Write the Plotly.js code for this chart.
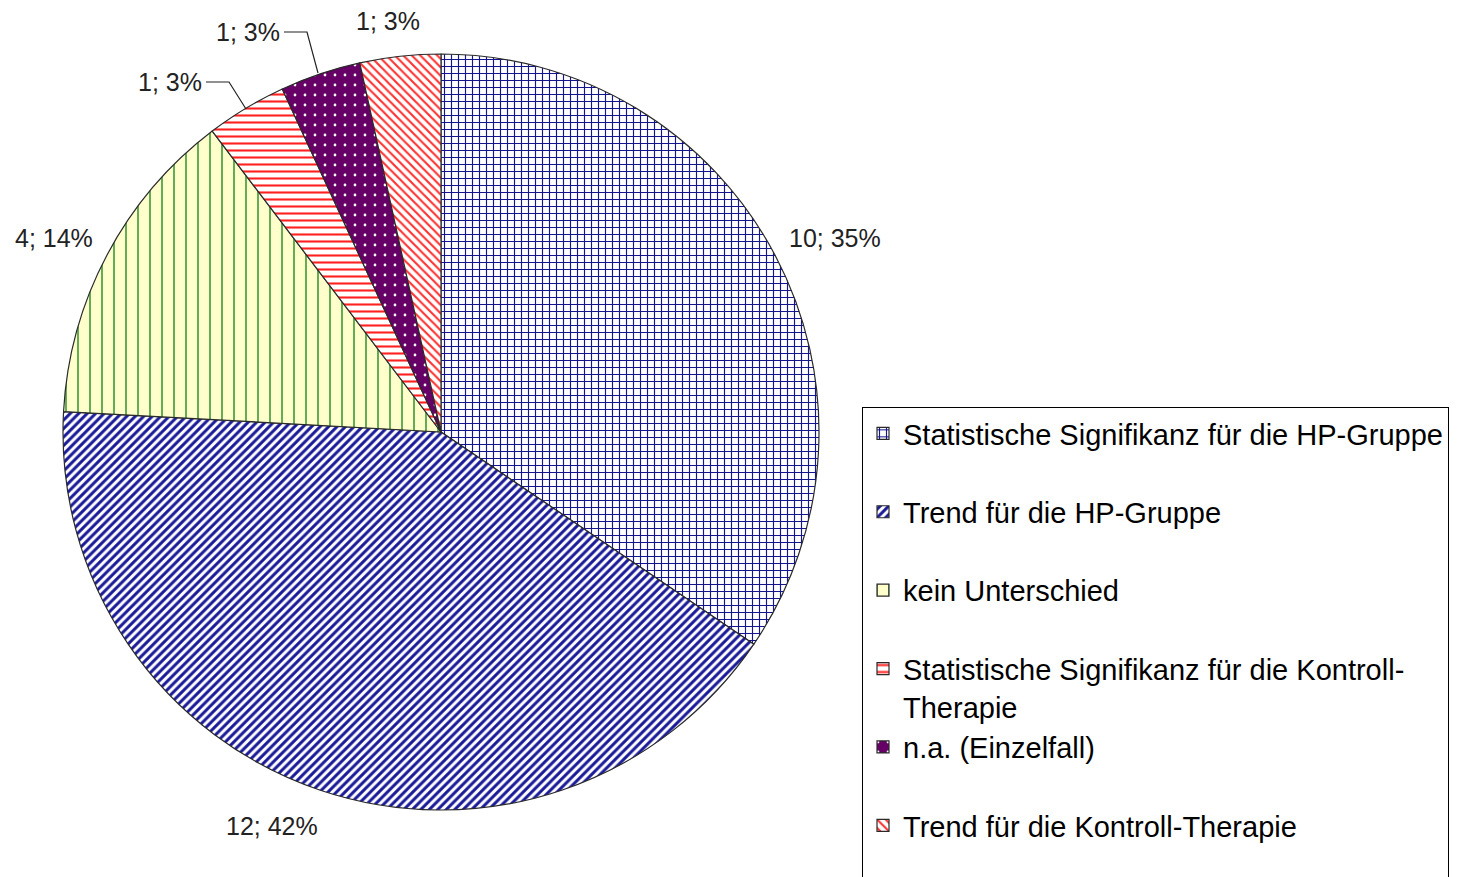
<!DOCTYPE html>
<html>
<head>
<meta charset="utf-8">
<script src="https://cdn.plot.ly/plotly-3.0.1.min.js"></script>
<style>html,body{margin:0;padding:0;background:#fff;}#chart{width:1468px;height:877px;}</style>
</head>
<body>
<div id="chart"></div>
<script>
// ---- data ----
const categories = [
  "Statistische Signifikanz für die HP-Gruppe",
  "Trend für die HP-Gruppe",
  "kein Unterschied",
  "Statistische Signifikanz für die Kontroll-<br>Therapie",
  "n.a. (Einzelfall)",
  "Trend für die Kontroll-Therapie"
];
const counts = [10, 12, 4, 1, 1, 1];
const percents = [35, 42, 14, 3, 3, 3];

// ---- styling ----
const W = 1468, H = 877;
const px = x => x / W, py = y => 1 - y / H;
const bgColors = ["#ffffff", "#ffffff", "#ffffcc", "#ffffff", "#660066", "#ffffff"];
const fgColors = ["#14148f", "#1a1a99", "#2a8a2a", "#ff2020", "#ffffff", "#ff3030"];
const shapes = ["+", "/", "|", "-", ".", "\\"];
const sizes = [7, 6, 12, 7, 10, 6];
const solid = [0.3, 0.5, 0.12, 0.3, 0.06, 0.35];

const legendLabels = categories.map(c => c.includes("<br>") ? c : c + "<br> ");
const sliceText = counts.map((c, i) => c + "; " + percents[i] + "%");

const trace = {
  type: "pie",
  labels: legendLabels,
  values: counts,
  sort: false,
  direction: "clockwise",
  rotation: 0,
  textinfo: "none",
  hoverinfo: "label+value+percent",
  domain: {x: [px(63), px(819)], y: [py(810), py(54)]},
  marker: {
    colors: bgColors,
    line: {color: "#2a2a2a", width: 1.2},
    pattern: {shape: shapes, fgcolor: fgColors, bgcolor: bgColors, size: sizes, solidity: solid, fillmode: "replace"}
  }
};

// label positions (pixel centers) for the data labels
const labelPos = [[835, 238], [272, 826], [54, 238], [170, 82], [248, 32], [388, 21]];
const annotations = sliceText.map((t, i) => ({
  text: t, xref: "paper", yref: "paper",
  x: px(labelPos[i][0]), y: py(labelPos[i][1]),
  xanchor: "center", yanchor: "middle", showarrow: false,
  font: {family: "Liberation Sans, Arial, sans-serif", size: 25, color: "#222"}
}));

const leaderShapes = [
  {type: "path", xref: "paper", yref: "paper",
   path: `M ${px(206)} ${py(82)} L ${px(229)} ${py(82)} L ${px(246)} ${py(109)}`,
   line: {color: "#222", width: 1.2}},
  {type: "path", xref: "paper", yref: "paper",
   path: `M ${px(284)} ${py(32)} L ${px(307)} ${py(32)} L ${px(318)} ${py(73)}`,
   line: {color: "#222", width: 1.2}}
];

const layout = {
  width: W, height: H,
  margin: {l: 0, r: 0, t: 0, b: 0, autoexpand: false},
  paper_bgcolor: "#ffffff",
  showlegend: true,
  legend: {
    x: px(862), y: py(407), xanchor: "left", yanchor: "top",
    bordercolor: "#000", borderwidth: 1, bgcolor: "#fff",
    font: {family: "Liberation Sans, Arial, sans-serif", size: 29, color: "#000"},
    valign: "top", traceorder: "normal"
  },
  annotations: annotations,
  shapes: leaderShapes
};

Plotly.newPlot("chart", [trace], layout, {displayModeBar: false, staticPlot: true});
</script>
</body>
</html>
